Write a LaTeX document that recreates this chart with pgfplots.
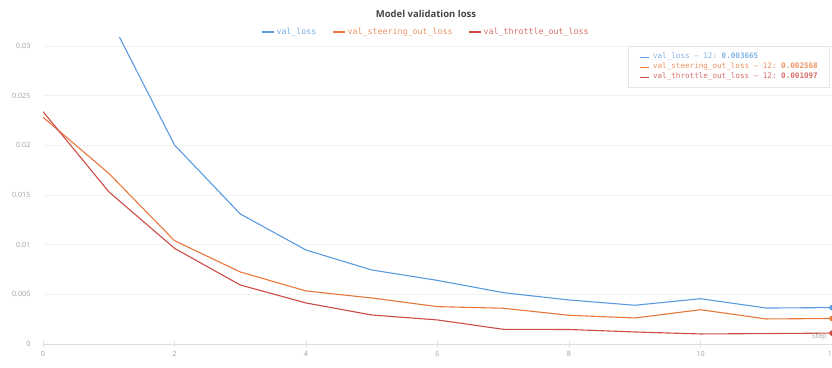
\documentclass[border=0pt]{standalone}
\usepackage{fontspec}
\setmainfont{Open Sans}
\setmonofont{DejaVu Sans Mono}
\usepackage{pgfplots}
\pgfplotsset{compat=1.18}
\definecolor{cblue}{HTML}{5A9BE0}
\definecolor{corange}{HTML}{E8783A}
\definecolor{cred}{HTML}{CD4B45}
\definecolor{tickgray}{HTML}{A0A0A0}
\definecolor{titlegray}{HTML}{444444}
\begin{document}
\begin{tikzpicture}[x=1pt,y=1pt]
\useasboundingbox (0,0) rectangle (832,367);
\begin{axis}[
  at={(43pt,23pt)}, anchor=south west,
  scale only axis, width=789pt, height=306pt,
  xmin=0, xmax=12, ymin=0, ymax=0.0308,
  axis x line*=bottom, axis y line*=left,
  x axis line style={draw=black!13, -},
  y axis line style={draw=none},
  scaled y ticks=false,
  xtick={0,2,4,6,8,10,12},
  ytick={0,0.005,0.01,0.015,0.02,0.025,0.03},
  yticklabels={0,0.005,0.01,0.015,0.02,0.025,0.03},
  xtick style={draw=black!13},
  ytick style={draw=none},
  tick align=center, major tick length=6pt,
  ymajorgrids, major grid style={draw=black!5},
  /pgf/number format/assume math mode=true,
  ticklabel style={font=\fontsize{7.2}{8}\selectfont, text=tickgray},
  yticklabel style={xshift=-6pt},
  xticklabel style={yshift=-1pt},
  legend style={at={(0.4854,1.0196)}, anchor=center, draw=none, fill=none,
    font=\ttfamily\fontsize{8.3}{10}\selectfont, legend columns=3,
    /tikz/every even column/.append style={column sep=14pt}},
  legend image code/.code={\draw[#1] (0pt,0pt) -- (12pt,0pt);},
  every axis plot/.append style={line width=1.1pt},
]
\addplot[cblue] coordinates {
(0,0.06) (1,0.033) (2,0.02003) (3,0.01309) (4,0.00946) (5,0.00745) (6,0.0064)
(7,0.00517) (8,0.00443) (9,0.0039) (10,0.00456) (11,0.00362) (12,0.003665)};
\addlegendentry{\textcolor{cblue!80}{val\_loss}}
\addplot[corange] coordinates {
(0,0.02282) (1,0.01718) (2,0.0104) (3,0.00725) (4,0.00534) (5,0.00463) (6,0.00376)
(7,0.0036) (8,0.00289) (9,0.00262) (10,0.00345) (11,0.00252) (12,0.002568)};
\addlegendentry{\textcolor{corange!80}{val\_steering\_out\_loss}}
\addplot[cred] coordinates {
(0,0.02339) (1,0.01533) (2,0.00963) (3,0.00594) (4,0.00413) (5,0.00292) (6,0.00242)
(7,0.00148) (8,0.00146) (9,0.00121) (10,0.00101) (11,0.00105) (12,0.001097)};
\addlegendentry{\textcolor{cred!80}{val\_throttle\_out\_loss}}
\addplot[cblue, only marks, mark=*, mark size=2.2pt, forget plot] coordinates {(12,0.003665)};
\addplot[corange, only marks, mark=*, mark size=2.2pt, forget plot] coordinates {(12,0.002568)};
\addplot[cred, only marks, mark=*, mark size=2.2pt, forget plot] coordinates {(12,0.001097)};
\end{axis}
\node[font=\bfseries\fontsize{9.5}{11}\selectfont, text=titlegray] at (426,353) {Model validation loss};
\node[draw=black!10, fill=white, anchor=north east, inner xsep=11pt, inner ysep=5pt,
  font=\ttfamily\fontsize{7.6}{11}\selectfont] at (829,321) {%
  \begin{tabular}{@{}l@{}}
  \textcolor{cblue}{\rule[0.3ex]{9pt}{0.8pt}}\ \textcolor{cblue!75}{val\_loss — 12: \textbf{0.003665}}\\[-1pt]
  \textcolor{corange}{\rule[0.3ex]{9pt}{0.8pt}}\ \textcolor{corange!80}{val\_steering\_out\_loss — 12: \textbf{0.002568}}\\[-1pt]
  \textcolor{cred}{\rule[0.3ex]{9pt}{0.8pt}}\ \textcolor{cred!80}{val\_throttle\_out\_loss — 12: \textbf{0.001097}}
  \end{tabular}};
\node[anchor=east, font=\fontsize{7}{8}\selectfont, text=tickgray] at (830,30) {Step};
\end{tikzpicture}
\end{document}
